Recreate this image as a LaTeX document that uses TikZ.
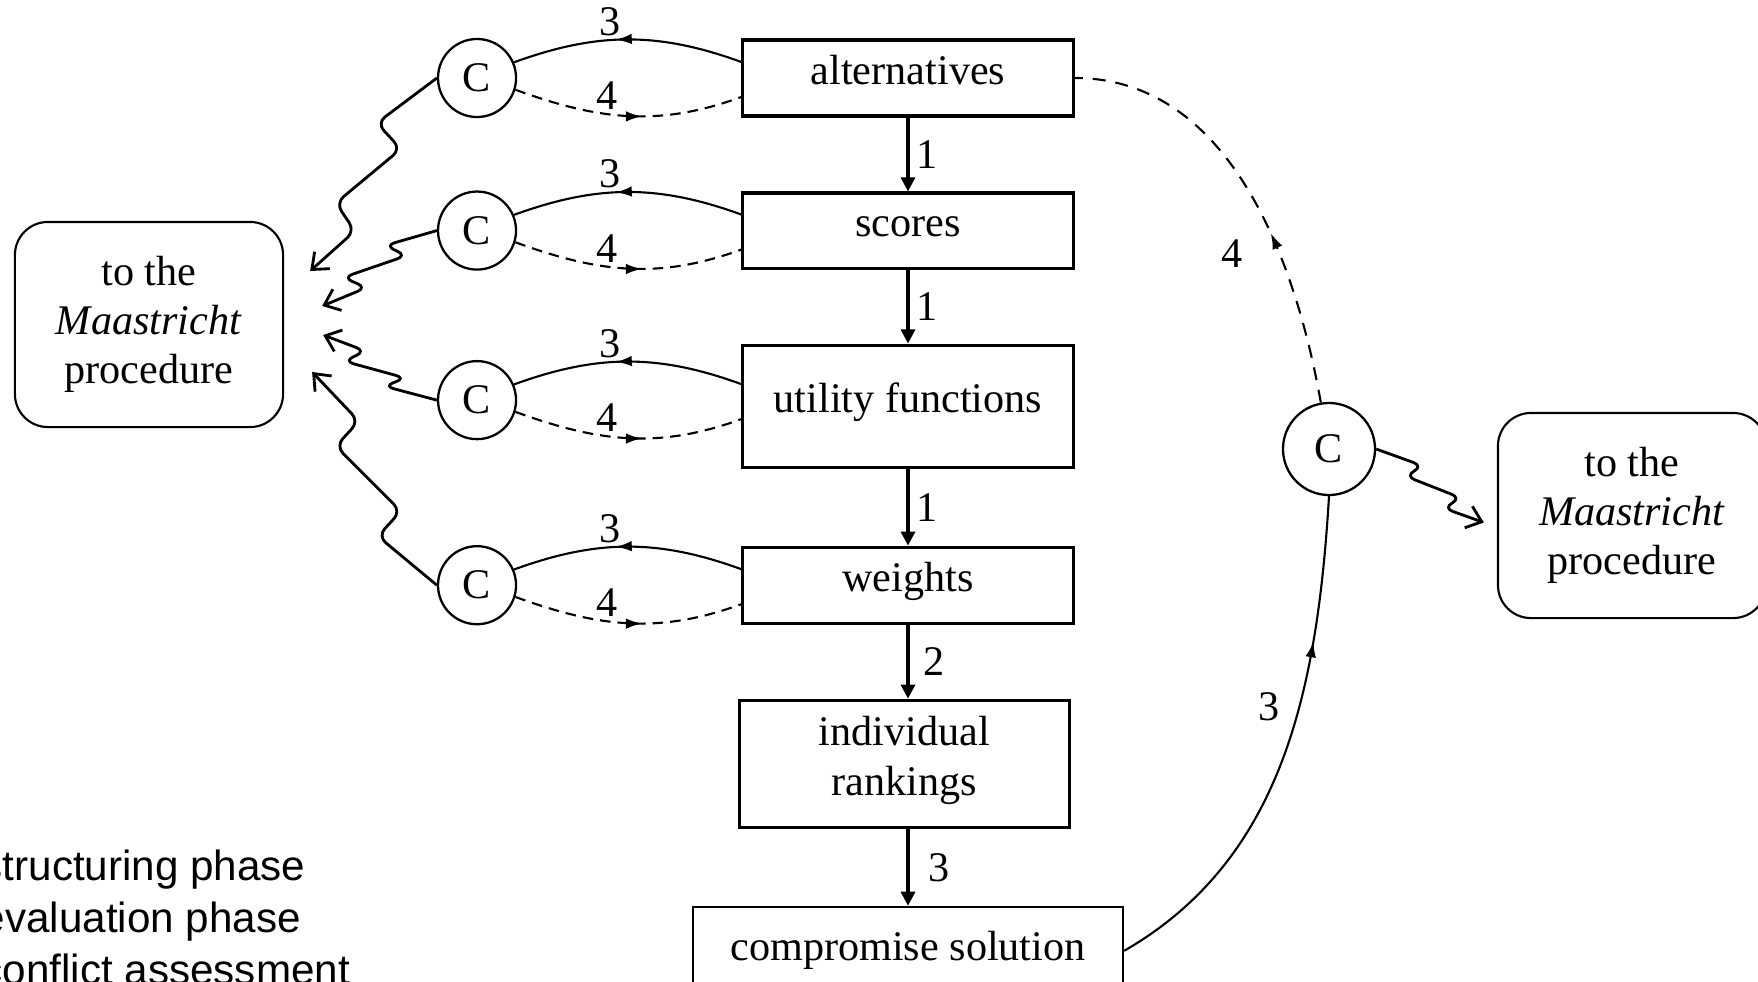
\documentclass[tikz,border=0pt]{standalone}
\usepackage{fontspec}
\setmainfont{Liberation Serif}
\newfontfamily\legendfont{Liberation Sans}
\usepackage{tikz}
\usetikzlibrary{shapes.geometric, arrows.meta, positioning, calc, decorations.markings}
\tikzstyle{stage} = [rectangle, draw=black, line width=0.9pt, minimum width=3.3cm, text centered, align=center, font=\fontsize{12}{14.5}\selectfont]
\tikzstyle{lift} = [text height=0.7em, text depth=0.35em]
\tikzstyle{conflict} = [circle, draw=black, line width=0.65pt, minimum size=0.78cm, inner sep=0pt, font=\fontsize{12}{14.5}\selectfont]
\tikzstyle{outbox} = [rectangle, rounded corners=0.33cm, draw=black, line width=0.6pt, minimum width=2.68cm, minimum height=2.05cm, align=center, font=\fontsize{12}{14}\selectfont]
\tikzstyle{flow} = [line width=0.9pt, -{Triangle[length=4pt,width=4pt]}]
\tikzstyle{loopback} = [line width=0.6pt]
\tikzstyle{loopfwd} = [line width=0.6pt, dash pattern=on 3pt off 2pt]
\tikzstyle{squiggle} = [line width=0.8pt, rounded corners=0.1cm, -{Straight Barb[length=4pt,width=6.5pt]}]
\tikzstyle{phase} = [inner sep=0pt, anchor=base west, font=\legendfont\fontsize{12}{14}\selectfont]
\tikzstyle{num} = [font=\fontsize{12}{14}\selectfont]
\tikzset{midtip/.style={postaction={decorate}, decoration={markings, mark=at position #1 with {\arrow{Latex[length=4.5pt,width=3pt]}}}}}

\begin{document}
\begin{tikzpicture}[x=0.01cm, y=0.01cm]
  \useasboundingbox (0,0) rectangle (1758,-981);

  % main column
  \node[stage, lift, minimum height=0.76cm] (alt) at (908,-78) {alternatives};
  \node[stage, lift, minimum height=0.75cm, below=0.738cm of alt] (scores) {scores};
  \node[stage, lift, minimum height=1.22cm, below=0.738cm of scores] (util) {utility functions};
  \node[stage, lift, minimum height=0.76cm, below=0.768cm of util] (weights) {weights};
  \node[stage, text depth=0.45em, minimum height=1.27cm, below=0.738cm of weights, xshift=-0.035cm] (rank) {individual\\rankings};
  \node[stage, line width=0.6pt, minimum width=4.3cm, minimum height=0.88cm, below=0.768cm of rank, xshift=0.035cm] (comp) {compromise solution};

  \draw[flow] (alt) -- node[num, right, inner sep=2pt] {1} (scores);
  \draw[flow] (scores) -- node[num, right, inner sep=2pt] {1} (util);
  \draw[flow] (util) -- node[num, right, inner sep=2pt] {1} (weights);
  \draw[flow] (weights.south) -- node[num, right, inner sep=4pt] {2} (weights.south |- rank.north);
  \draw[flow] (comp.north |- rank.south) -- node[num, right, inner sep=5.5pt] {3} (comp.north);

  % conflict checks
  \node[conflict, left=2.24cm of alt] (c1) {C};
  \node[conflict, left=2.24cm of scores] (c2) {C};
  \node[conflict, left=2.24cm of util, yshift=0.06cm] (c3) {C};
  \node[conflict, left=2.24cm of weights] (c4) {C};
  \node[conflict, minimum size=0.92cm] (cr) at (1329,-449) {C};

  \node[outbox] (ml) at (149,-324.5) {to the\\\textit{Maastricht}\\procedure};
  \node[outbox] (mr) at (1632,-515.5) {to the\\\textit{Maastricht}\\procedure};

  % loops back and forth
  \draw[loopback, midtip=0.55] ($(c1 -| alt.west)+(0,16)$) to[out=160, in=20] node[num, pos=0.58, above, inner sep=1pt] {3} (c1.23);
  \draw[loopfwd, midtip=0.56] (c1.-17) to[out=-20, in=200] node[num, pos=0.4, above, inner sep=1pt] {4} ($(c1 -| alt.west)+(0,-19)$);
  \draw[loopback, midtip=0.55] ($(c2 -| scores.west)+(0,16)$) to[out=160, in=20] node[num, pos=0.58, above, inner sep=1pt] {3} (c2.23);
  \draw[loopfwd, midtip=0.56] (c2.-17) to[out=-20, in=200] node[num, pos=0.4, above, inner sep=1pt] {4} ($(c2 -| scores.west)+(0,-19)$);
  \draw[loopback, midtip=0.55] ($(c3 -| util.west)+(0,16)$) to[out=160, in=20] node[num, pos=0.58, above, inner sep=1pt] {3} (c3.23);
  \draw[loopfwd, midtip=0.56] (c3.-17) to[out=-20, in=200] node[num, pos=0.4, above, inner sep=1pt] {4} ($(c3 -| util.west)+(0,-19)$);
  \draw[loopback, midtip=0.55] ($(c4 -| weights.west)+(0,16)$) to[out=160, in=20] node[num, pos=0.58, above, inner sep=1pt] {3} (c4.23);
  \draw[loopfwd, midtip=0.56] (c4.-17) to[out=-20, in=200] node[num, pos=0.4, above, inner sep=1pt] {4} ($(c4 -| weights.west)+(0,-19)$);

  % squiggles to the Maastricht procedure
  \draw[squiggle] (c1.west) -- ++(-60,-45) -- ++(24,-26) -- ++(-65,-54) -- ++(19,-28) -- ([shift={(26,53.5)}]ml.east);
  \draw[squiggle] (c2.west) -- ++(-52,-15) -- ++(22,-10) -- ++(-64,-22) -- ++(24,-10) -- ([shift={(38,18.5)}]ml.east);
  \draw[squiggle] (c3.west) -- ++(-53,14) -- ++(22,8) -- ++(-62,17) -- ++(22,10) -- ([shift={(39,-10.5)}]ml.east);
  \draw[squiggle] (c4.west) -- ++(-59,49) -- ++(23,25) -- ++(-65,65) -- ++(23,25) -- ([shift={(28,-47.5)}]ml.east);
  \draw[squiggle] (cr.east) -- ++(47,-17) -- ++(-18,-10) -- ++(56,-22) -- ++(-18,-10) -- ([shift={(-13,-7)}]mr.west);

  % right side
  \draw[loopback, midtip=0.72] (comp.east) .. controls +(156,90) and +(-12,-200) .. (cr.south) node[num, pos=0.62, left=2pt] {3};
  \draw[loopfwd, dash pattern=on 3.7pt off 2.8pt, midtip=0.4] (cr.100) to[out=100, in=0, looseness=0.95] node[num, pos=0.33, left=7pt] {4} (alt.east);

  % phases
  \node[phase] (ph1) at (-19,-880) {structuring phase};
  \node[phase] (ph2) at (-19,-932) {evaluation phase};
  \node[phase] (ph3) at (-19,-984) {conflict assessment};
\end{tikzpicture}
\end{document}
